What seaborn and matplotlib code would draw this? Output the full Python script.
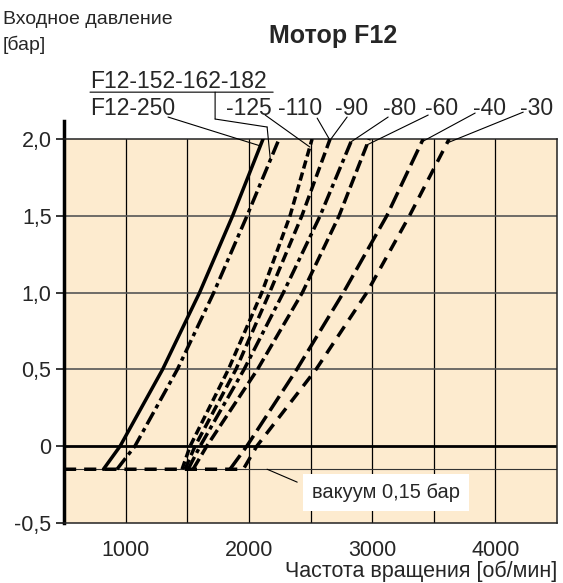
import numpy as np
import pandas as pd
import matplotlib
matplotlib.use("Agg")
import matplotlib.pyplot as plt
import seaborn as sns

PRESSURE = [-0.15, 0.0, 0.5, 1.0, 1.5, 2.0]

# speed (rpm) per motor size at the pressures above
CURVES = ["F12-250", "F12-152-162-182", "-125", "-110/-90", "-80", "-60", "-40", "-30"]
SPEED_250 = [820, 955, 1300, 1600, 1868, 2115]
SPEED_152 = [930, 1075, 1420, 1715, 1985, 2245]
SPEED_125 = [1458, 1523, 1834, 2105, 2334, 2513]
SPEED_110_90 = [1482, 1563, 1895, 2168, 2430, 2659]
SPEED_80 = [1507, 1604, 1961, 2280, 2578, 2838]
SPEED_60 = [1547, 1658, 2070, 2434, 2732, 2976]
SPEED_40 = [1847, 1983, 2389, 2767, 3119, 3414]
SPEED_30 = [1955, 2064, 2545, 2957, 3303, 3625]

VACUUM = -0.15
VACUUM_RUN_START = 500  # the -30 curve runs flat at vacuum from here

X_TICKS = [1000, 2000, 3000, 4000]
Y_TICKS = [-0.5, 0.0, 0.5, 1.0, 1.5, 2.0]
Y_TICK_LABELS = ["-0,5", "0", "0,5", "1,0", "1,5", "2,0"]

speeds = [SPEED_250, SPEED_152, SPEED_125, SPEED_110_90, SPEED_80, SPEED_60, SPEED_40, SPEED_30]
rows = []
for name, sp in zip(CURVES, speeds):
    pts = list(zip(sp, PRESSURE))
    if name == "-30":
        pts = [(VACUUM_RUN_START, VACUUM)] + pts
    for s, p in pts:
        rows.append({"curve": name, "speed": s, "pressure": p})
df = pd.DataFrame(rows)

sns.set_style("white")
plt.rcParams["font.family"] = ["Liberation Sans", "DejaVu Sans"]

fig = plt.figure(figsize=(5.63, 5.83), dpi=100)
ax = fig.add_axes([64 / 563, 60 / 583, 493 / 563, 384 / 583])
ax.set_facecolor("#FDEBCF")

dashes = {
    "F12-250": "",
    "F12-152-162-182": (4, 1.3, 1.2, 1.3),
    "-125": (2.4, 1.2),
    "-110/-90": (3, 1.4),
    "-80": (4, 1.3, 1.2, 1.3),
    "-60": (3.5, 1.4),
    "-40": (5, 1.8),
    "-30": (3.5, 2.3),
}

# grid
for xv in [1000, 1500, 2000, 2500, 3000, 3500, 4000]:
    ax.axvline(xv, color="black", lw=0.9, zorder=1)
for yv in [0.5, 1.0, 1.5]:
    ax.axhline(yv, color="#555555", lw=1.2, zorder=1)
ax.axhline(0, color="black", lw=2, zorder=1)
ax.axhline(VACUUM, color="#333333", lw=0.8, zorder=1)

sns.lineplot(data=df, x="speed", y="pressure", style="curve", dashes=dashes,
             color="black", lw=2.5, estimator=None, sort=True, legend=False, ax=ax, zorder=3)

ax.set_xlim(500, 4500)
ax.set_ylim(-0.5, 2.0)
ax.set_xticks(X_TICKS)
ax.set_yticks(Y_TICKS)
ax.set_yticklabels(Y_TICK_LABELS)
ax.tick_params(axis="x", which="both", length=0, pad=12, labelsize=15.5)
ax.tick_params(axis="y", length=6, width=1.3, pad=3, labelsize=15.5, left=True, direction="out")
ax.set_xlabel("")
ax.set_ylabel("")

for side in ["top", "right", "bottom"]:
    ax.spines[side].set_visible(True)
    ax.spines[side].set_color("#222222")
    ax.spines[side].set_linewidth(1.1)
ax.spines["left"].set_color("black")
ax.spines["left"].set_linewidth(2.5)
ax.spines["left"].set_bounds(-0.5, 2.12)

# labels with leader lines
lead = dict(arrowstyle="-", lw=0.8, color="black", shrinkA=0, shrinkB=0)
label_font = 16.5
label_y = 2.156

def on_curve(sp, p):
    return (np.interp(p, PRESSURE, sp), p)

ax.text(711, 2.335, "F12-152-162-182", fontsize=label_font, va="baseline", ha="left", clip_on=False)
ax.annotate("", xy=(2197, 2.305), xytext=(711, 2.305), arrowprops=lead, annotation_clip=False)
ax.annotate("", xy=(1726, 2.13), xytext=(1726, 2.305), arrowprops=lead, annotation_clip=False)
ax.annotate("", xy=(2148, 2.078), xytext=(1726, 2.13), arrowprops=lead, annotation_clip=False)
ax.annotate("", xy=on_curve(SPEED_152, 1.864), xytext=(2148, 2.078), arrowprops=lead, annotation_clip=False)

texts = [
    ("F12-250", 711, SPEED_250, (1344, 2.143), 1.955),
    ("-125", 1815, SPEED_125, (2132, 2.156), 1.948),
    ("-110", 2237, SPEED_110_90, (2554, 2.136), 1.994),
    ("-90", 2700, SPEED_110_90, (2797, 2.143), 1.985),
    ("-80", 3089, SPEED_80, (3130, 2.143), 1.981),
    ("-60", 3430, SPEED_60, (3455, 2.156), 1.961),
    ("-40", 3820, SPEED_40, (3836, 2.169), 1.981),
    ("-30", 4201, SPEED_30, (4226, 2.175), 1.974),
]
for txt, tx, sp, start, p in texts:
    ax.text(tx, label_y, txt, fontsize=label_font, va="baseline", ha="left", clip_on=False)
    ax.annotate("", xy=on_curve(sp, p), xytext=start, arrowprops=lead, annotation_clip=False)

# vacuum note
ax.text(2513, -0.299, "вакуум 0,15 бар", fontsize=14.5, va="center", ha="left", zorder=5,
        bbox=dict(boxstyle="square,pad=0.45", facecolor="white", edgecolor="none"))
ax.annotate("", xy=(2392, -0.234), xytext=(2148, VACUUM), arrowprops=lead, zorder=4)

fig.text(3 / 563, 1 - 20 / 583, "Входное давление", fontsize=14, ha="left", va="center")
fig.text(3 / 563, 1 - 45 / 583, "[бар]", fontsize=14, ha="left", va="center")
fig.text(333 / 563, 1 - 36 / 583, "Мотор F12", fontsize=18, fontweight="bold", ha="center", va="center")
fig.text(557 / 563, 1 / 583, "Частота вращения [об/мин]", fontsize=15.5, ha="right", va="bottom")

fig.savefig("out.png", dpi=100)
